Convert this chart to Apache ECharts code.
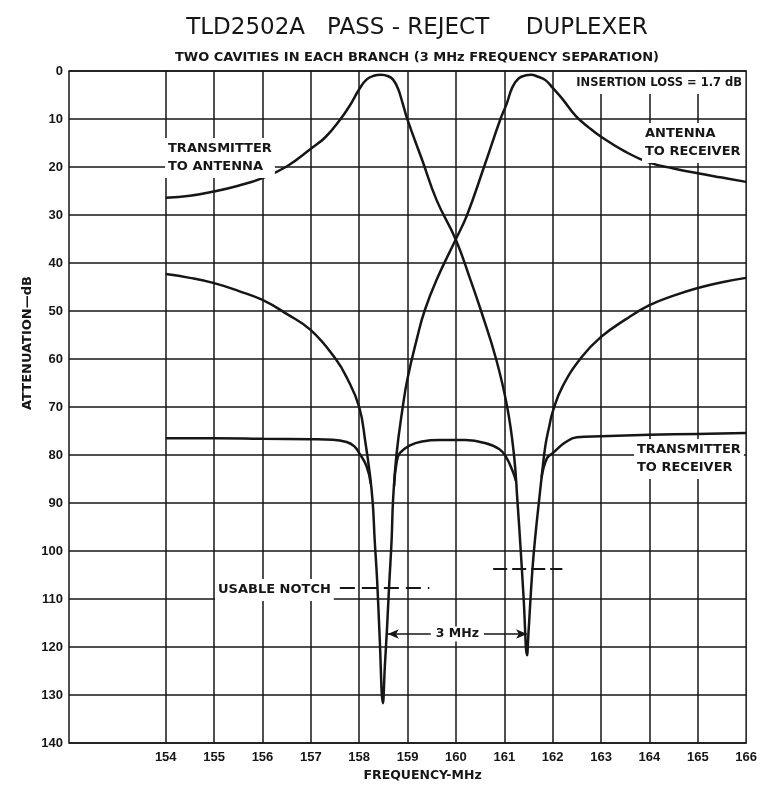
<!DOCTYPE html>
<html>
<head>
<meta charset="utf-8">
<title>TLD2502A Pass-Reject Duplexer</title>
<script src="https://cdn.jsdelivr.net/npm/echarts@6/dist/echarts.min.js"></script>
<style>
  html, body { margin: 0; padding: 0; background: #fff; }
  #chart { width: 760px; height: 787px; }
</style>
</head>
<body>
<div id="chart"></div>
<script>
// frequency (MHz), attenuation (dB)
const txToAntenna = [
  [154, 26.4], [154.5, 26.0], [155, 25.1], [155.5, 23.9], [156, 22.3], [156.5, 19.9],
  [157, 16.2], [157.3, 13.8], [157.6, 10.2], [157.8, 7.3], [158, 3.8], [158.15, 1.8],
  [158.3, 1.0], [158.45, 0.8], [158.6, 1.1], [158.7, 1.8], [158.8, 3.6], [158.9, 6.8],
  [159, 10.2], [159.3, 18.5], [159.6, 26.9], [160, 35.2], [160.3, 43.5], [160.52, 50],
  [160.83, 60], [161.06, 70], [161.2, 80], [161.27, 89.4], [161.34, 100], [161.4, 110],
  [161.47, 121.7], [161.5, 117], [161.58, 104], [161.65, 96], [161.72, 89.4], [161.78, 83.8],
  [161.85, 78], [161.93, 74], [162, 71], [162.2, 65.8], [162.6, 59.6], [163, 55.4],
  [163.5, 51.8], [164, 48.8], [164.5, 46.8], [165, 45.2], [165.5, 44.0], [166, 43.1]
]
const antennaToReceiver = [
  [154, 42.3], [154.5, 43.1], [155, 44.2], [155.5, 45.8], [156, 47.7], [156.5, 50.6],
  [157, 54], [157.5, 59.8], [157.75, 64], [158, 70], [158.13, 77.5], [158.22, 84],
  [158.28, 90], [158.32, 97.7], [158.37, 106], [158.42, 117.3], [158.49, 131.7], [158.53, 124],
  [158.57, 117], [158.62, 107], [158.67, 97.7], [158.7, 89.4], [158.77, 80], [158.9, 70],
  [159, 64], [159.2, 55.5], [159.35, 50], [159.6, 43.5], [160, 35], [160.23, 30],
  [160.58, 20], [160.92, 10], [161.05, 6.8], [161.17, 3.3], [161.3, 1.5], [161.45, 0.9],
  [161.55, 0.8], [161.7, 1.2], [161.85, 1.9], [162, 3.5], [162.2, 5.8], [162.48, 9.4],
  [162.75, 11.8], [163, 13.7], [163.5, 16.8], [164, 19.1], [164.5, 20.3], [165, 21.3],
  [165.5, 22.2], [166, 23.1]
]
// transmitter to receiver, drawn in three pieces that run into the notches
const txToReceiverLow = [
  [154, 76.5], [155, 76.5], [156, 76.6], [157, 76.7], [157.45, 76.8], [157.74, 77.3],
  [157.9, 78.2], [158, 79.6], [158.15, 82.3], [158.24, 86]
]
const txToReceiverMid = [
  [158.72, 86.5], [158.77, 81.8], [158.84, 79.6], [159.05, 78], [159.3, 77.2], [159.66, 76.9],
  [160.2, 76.9], [160.6, 77.5], [160.9, 78.8], [161.04, 80.5], [161.17, 83.3], [161.24, 85.4]
]
const txToReceiverHigh = [
  [161.77, 84.7], [161.88, 80.7], [162, 79.6], [162.27, 77.3], [162.5, 76.3], [163, 76.1],
  [164, 75.8], [165, 75.6], [166, 75.4]
]
const freqGridTicks = [154, 155, 156, 157, 158, 159, 160, 161, 162, 163, 164, 165]
const lowNotchLevel = [157.6, 159.45, 107.7]   // from, to, dB
const highNotchLevel = [160.77, 162.2, 103.75]
const notchSpacing = [158.59, 161.47, 117.3]

const ink = '#161616'
const labelFont = 'bold 13px "DejaVu Sans"'

function boxText(x, y, text, font, align) {
  return {
    type: 'text',
    x: x,
    y: y,
    z: 50,
    style: {
      text: text,
      font: font || labelFont,
      fill: ink,
      lineHeight: 18,
      align: align || 'left',
      textAlign: align || 'left',
      verticalAlign: 'top',
      textVerticalAlign: 'top',
      backgroundColor: '#fff',
      padding: [2, 3]
    }
  }
}

const chart = echarts.init(document.getElementById('chart'))
const curveStyle = { color: ink, width: 2.5 }

chart.setOption({
  animation: false,
  backgroundColor: '#fff',
  title: {
    text: 'TLD2502A   PASS - REJECT     DUPLEXER',
    subtext: 'TWO CAVITIES IN EACH BRANCH (3 MHz FREQUENCY SEPARATION)',
    left: 412,
    top: 12,
    textAlign: 'center',
    itemGap: 11,
    textStyle: { fontFamily: 'DejaVu Sans', fontWeight: 'normal', fontSize: 23, color: ink },
    subtextStyle: { fontFamily: 'DejaVu Sans', fontWeight: 'bold', fontSize: 13, color: ink }
  },
  grid: {
    left: 69,
    right: 12,
    top: 71,
    bottom: 44,
    show: true,
    borderColor: ink,
    borderWidth: 1.5
  },
  xAxis: {
    type: 'value',
    min: 152,
    max: 166,
    interval: 1,
    axisLine: { show: false },
    axisTick: { show: false },
    splitLine: { show: false },
    axisLabel: {
      formatter: function(v) { return v >= 154 ? String(v) : '' },
      fontFamily: 'Liberation Sans',
      fontWeight: 'bold',
      fontSize: 13,
      color: ink,
      margin: 8
    },
    name: 'FREQUENCY-MHz',
    nameLocation: 'middle',
    nameGap: 25,
    nameTextStyle: {
      fontFamily: 'DejaVu Sans',
      fontWeight: 'bold',
      fontSize: 12.5,
      color: ink,
      padding: [0, 0, 0, 30]
    }
  },
  yAxis: {
    type: 'value',
    inverse: true,
    min: 0,
    max: 140,
    interval: 10,
    axisLine: { show: false },
    axisTick: { show: false },
    splitLine: { lineStyle: { color: ink, width: 1.5 } },
    axisLabel: {
      fontFamily: 'Liberation Sans',
      fontWeight: 'bold',
      fontSize: 13,
      color: ink,
      margin: 6
    }
  },
  graphic: [
    {
      type: 'text',
      x: 28,
      y: 343,
      rotation: Math.PI / 2,
      style: {
        text: 'ATTENUATION—dB',
        font: labelFont,
        fill: ink,
        align: 'center',
        textAlign: 'center',
        verticalAlign: 'middle',
        textVerticalAlign: 'middle'
      }
    },
    boxText(165, 138, 'TRANSMITTER\nTO ANTENNA'),
    boxText(642, 123, 'ANTENNA\nTO RECEIVER'),
    boxText(634, 439, 'TRANSMITTER\nTO RECEIVER'),
    boxText(745, 72, 'INSERTION LOSS = 1.7 dB', 'bold 11.5px "DejaVu Sans"', 'right'),
    boxText(215, 579, 'USABLE NOTCH')
  ],
  series: [
    {
      name: 'TRANSMITTER TO ANTENNA',
      type: 'line',
      data: txToAntenna,
      showSymbol: false,
      smooth: 0.45,
      lineStyle: curveStyle,
      z: 3
    },
    {
      name: 'ANTENNA TO RECEIVER',
      type: 'line',
      data: antennaToReceiver,
      showSymbol: false,
      smooth: 0.45,
      lineStyle: curveStyle,
      z: 3,
      markLine: {
        silent: true,
        symbol: ['none', 'none'],
        label: { show: false },
        lineStyle: { color: ink, width: 2, type: [15, 7] },
        data: [
          [{ coord: [lowNotchLevel[0], lowNotchLevel[2]] }, { coord: [lowNotchLevel[1], lowNotchLevel[2]] }],
          [
            { coord: [highNotchLevel[0], highNotchLevel[2]], lineStyle: { type: [14, 5] } },
            { coord: [highNotchLevel[1], highNotchLevel[2]] }
          ],
          [
            {
              coord: [notchSpacing[0], notchSpacing[2]],
              symbol: 'arrow',
              symbolSize: [7, 11],
              lineStyle: { type: 'solid', width: 1.5 },
              label: {
                show: true,
                position: 'middle',
                formatter: '3 MHz',
                align: 'center',
                verticalAlign: 'middle',
                distance: 0,
                backgroundColor: '#fff',
                padding: [1, 5],
                color: ink,
                fontFamily: 'DejaVu Sans',
                fontWeight: 'bold',
                fontSize: 12.5
              }
            },
            { coord: [notchSpacing[1], notchSpacing[2]], symbol: 'arrow', symbolSize: [7, 11] }
          ]
        ]
      }
    },
    {
      name: 'TRANSMITTER TO RECEIVER',
      type: 'line',
      data: txToReceiverLow.concat([[158.5, null]], txToReceiverMid, [[161.5, null]], txToReceiverHigh),
      showSymbol: false,
      smooth: 0.45,
      lineStyle: curveStyle,
      z: 3,
      markLine: {
        silent: true,
        z: 1,
        symbol: ['none', 'none'],
        label: { show: false },
        lineStyle: { color: ink, width: 1.5, type: 'solid' },
        data: freqGridTicks.map(function(v) { return { xAxis: v } })
      }
    }
  ]
})
</script>
</body>
</html>
